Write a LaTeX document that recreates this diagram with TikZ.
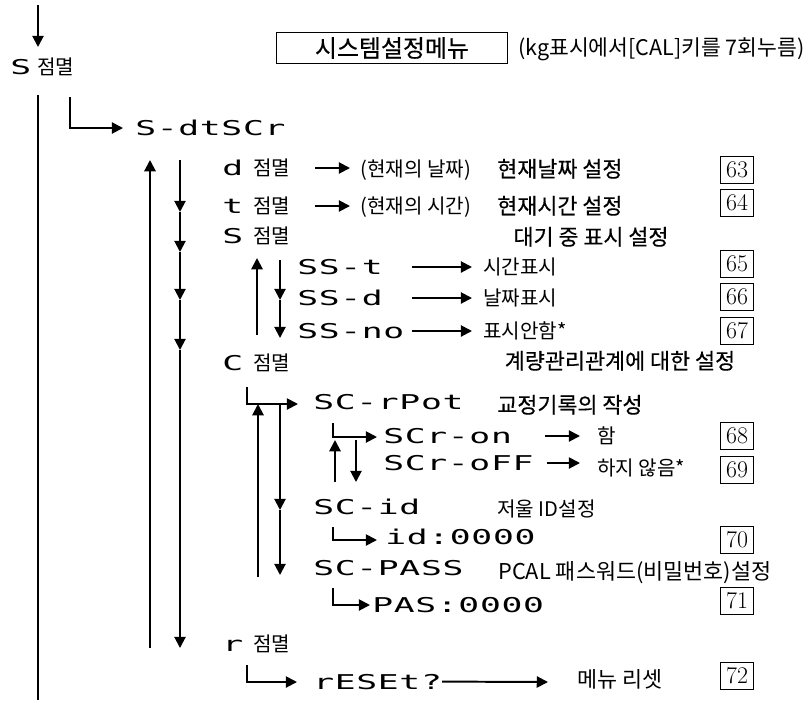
\documentclass[tikz,border=0pt]{standalone}
\usepackage{fontspec}
\newfontfamily\kor{Noto Sans CJK KR}
\newfontfamily\korb[FakeBold=0.4]{Noto Sans CJK KR}
\newfontfamily\segfont[LetterSpace=2]{DejaVu Sans Mono}
\usetikzlibrary{arrows.meta}
\newcommand{\seg}[1]{\scalebox{1.7}[1]{#1}}

\begin{document}
\begin{tikzpicture}[
  x=0.025cm, y=-0.025cm,
  lbl/.style={font=\kor\fontsize{14.3}{16}\selectfont, inner sep=0pt, anchor=base west},
  ttl/.style={font=\kor\fontsize{15.5}{18}\selectfont, inner sep=0pt, anchor=base west},
  ttlb/.style={font=\korb\fontsize{15.5}{18}\selectfont, inner sep=0pt, anchor=base west},
  disp/.style={font=\segfont\fontsize{14.5}{16}\selectfont, inner sep=0pt, anchor=base west},
  pg/.style={draw, line width=0.6pt, minimum width=23.5pt, minimum height=19pt, inner sep=0pt, font=\fontsize{17}{19}\selectfont},
  flow/.style={line width=1.4pt, -{Triangle[length=8pt,width=8pt]}},
  bar/.style={line width=1.4pt}
]
\useasboundingbox (0,0) rectangle (809,700);

\node[draw, line width=0.8pt, minimum width=164pt, minimum height=22pt, inner sep=0pt, font=\korb\fontsize{17}{19}\selectfont] (menu) at (392,48) {시스템설정메뉴};
\node[lbl, font=\kor\fontsize{15.3}{17}\selectfont] (menunote) at (518,55) {(kg표시에서[CAL]키를 7회누름)};

\node[disp] (sblink) at (10,74) {\seg{S}};
\node[lbl] (sblinkl) at (37,74) {점멸};
\node[disp] (sdt) at (135,135) {\seg{S-dtSCr}};

\node[disp] (dblink) at (222,175) {\seg{d}};
\node[lbl] (dblinkl) at (253,175) {점멸};
\node[lbl] (dnote) at (360,176) {(현재의 날짜)};
\node[ttlb] (dset) at (497,177) {현재날짜 설정};
\node[disp] (tblink) at (222,213) {\seg{t}};
\node[lbl] (tblinkl) at (253,213) {점멸};
\node[lbl] (tnote) at (360,213) {(현재의 시간)};
\node[ttlb] (tset) at (497,214) {현재시간 설정};
\node[disp] (ssblink) at (222,243) {\seg{S}};
\node[lbl] (ssblinkl) at (253,243) {점멸};
\node[ttlb, anchor=base] (sshead) at (591,245) {대기 중 표시 설정};
\node[disp] (sst) at (297,274) {\seg{SS-t}};
\node[lbl] (sstl) at (483,274) {시간표시};
\node[disp] (ssd) at (297,305) {\seg{SS-d}};
\node[lbl] (ssdl) at (483,305) {날짜표시};
\node[disp] (ssno) at (297,338) {\seg{SS-no}};
\node[lbl] (ssnol) at (483,338) {표시안함*};

\node[disp] (cblink) at (222,370) {\seg{C}};
\node[lbl] (cblinkl) at (253,370) {점멸};
\node[ttlb, anchor=base] (chead) at (620,369) {계량관리관계에 대한 설정};
\node[disp] (scrpot) at (313,409) {\seg{SC-rPot}};
\node[ttlb] (scrpotl) at (497,413) {교정기록의 작성};
\node[disp] (scron) at (383,443) {\seg{SCr-on}};
\node[lbl] (scronl) at (597,443) {함};
\node[disp] (scroff) at (383,470) {\seg{SCr-oFF}};
\node[lbl] (scroffl) at (597,475) {하지 않음*};
\node[disp] (scid) at (313,514) {\seg{SC-id}};
\node[lbl] (scidl) at (497,516) {저울 ID설정};
\node[disp] (idval) at (385,544) {\seg{id:0000}};
\node[disp] (scpass) at (313,575) {\seg{SC-PASS}};
\node[ttl] (scpassl) at (498,579) {PCAL 패스워드(비밀번호)설정};
\node[disp] (pasval) at (372,612) {\seg{PAS:0000}};

\node[disp] (rblink) at (222,651) {\seg{r}};
\node[lbl] (rblinkl) at (253,651) {점멸};
\node[disp] (reset) at (313,689) {\seg{rESEt?}};
\node[ttl] (resetl) at (577,687) {메뉴 리셋};

\node[pg] (p63) at (737,170) {63};
\node[pg] (p64) at (737,203) {64};
\node[pg] (p65) at (737,264) {65};
\node[pg] (p66) at (737,297) {66};
\node[pg] (p67) at (737,331) {67};
\node[pg] (p68) at (737,436) {68};
\node[pg] (p69) at (737,470) {69};
\node[pg] (p70) at (737,540) {70};
\node[pg] (p71) at (737,601) {71};
\node[pg] (p72) at (737,676) {72};

\coordinate (in0) at (38,5);
\coordinate (in1) at (38,47);
\draw[flow] (in0) -- (in1);
\coordinate (m0) at (38,95);
\coordinate (m1) at (38,700);
\draw[bar] (m0) -- (m1);
\coordinate (l0) at (70,97);
\coordinate (l1) at (123,128);
\draw[flow] (l0) |- (l1);

\coordinate (u0) at (150,648);
\coordinate (u1) at (150,160);
\draw[flow] (u0) -- (u1);
\coordinate (d0) at (180,160);
\coordinate (d1) at (180,212);
\coordinate (d2) at (180,252);
\coordinate (d3) at (180,300);
\coordinate (d4) at (180,350);
\coordinate (d5) at (180,648);
\draw[flow] (d0) -- (d1);
\draw[flow] (d1) -- (d2);
\draw[flow] (d2) -- (d3);
\draw[flow] (d3) -- (d4);
\draw[flow] (d4) -- (d5);

\coordinate (ad0) at (315,168);
\coordinate (ad1) at (350,168);
\draw[flow] (ad0) -- (ad1);
\coordinate (at0) at (315,206);
\coordinate (at1) at (350,206);
\draw[flow] (at0) -- (at1);

\coordinate (su0) at (257,335);
\coordinate (su1) at (257,258);
\draw[flow] (su0) -- (su1);
\coordinate (sd0) at (280,260);
\coordinate (sd1) at (280,300);
\coordinate (sd2) at (280,338);
\draw[flow] (sd0) -- (sd1);
\draw[flow] (sd1) -- (sd2);
\coordinate (as1) at (412,267);
\coordinate (as2) at (472,267);
\draw[flow] (as1) -- (as2);
\coordinate (as3) at (412,298);
\coordinate (as4) at (472,298);
\draw[flow] (as3) -- (as4);
\coordinate (as5) at (412,331);
\coordinate (as6) at (472,331);
\draw[flow] (as5) -- (as6);

\coordinate (cl0) at (247,387);
\coordinate (cl1) at (298,404);
\draw[flow] (cl0) |- (cl1);
\coordinate (cu0) at (258,577);
\coordinate (cu1) at (258,404);
\draw[flow] (cu0) -- (cu1);
\coordinate (cd0) at (280,404);
\coordinate (cd1) at (280,510);
\coordinate (cd2) at (280,575);
\draw[flow] (cd0) -- (cd1);
\draw[flow] (cd1) -- (cd2);

\coordinate (ol0) at (333,423);
\coordinate (ol1) at (377,437);
\draw[flow] (ol0) |- (ol1);
\coordinate (ou0) at (335,482);
\coordinate (ou1) at (335,440);
\draw[flow] (ou0) -- (ou1);
\coordinate (od0) at (356,440);
\coordinate (od1) at (356,482);
\draw[flow] (od0) -- (od1);
\coordinate (ao0) at (545,436);
\coordinate (ao1) at (580,436);
\draw[flow] (ao0) -- (ao1);
\coordinate (af0) at (547,463);
\coordinate (af1) at (580,463);
\draw[flow] (af0) -- (af1);

\coordinate (il0) at (333,527);
\coordinate (il1) at (377,540);
\draw[flow] (il0) |- (il1);
\coordinate (pl0) at (333,588);
\coordinate (pl1) at (370,605);
\draw[flow] (pl0) |- (pl1);

\coordinate (rl0) at (247,665);
\coordinate (rl1) at (297,682);
\draw[flow] (rl0) |- (rl1);
\coordinate (ar1) at (548,682);
\draw[flow] (reset.east) -- (ar1);

\end{tikzpicture}
\end{document}
